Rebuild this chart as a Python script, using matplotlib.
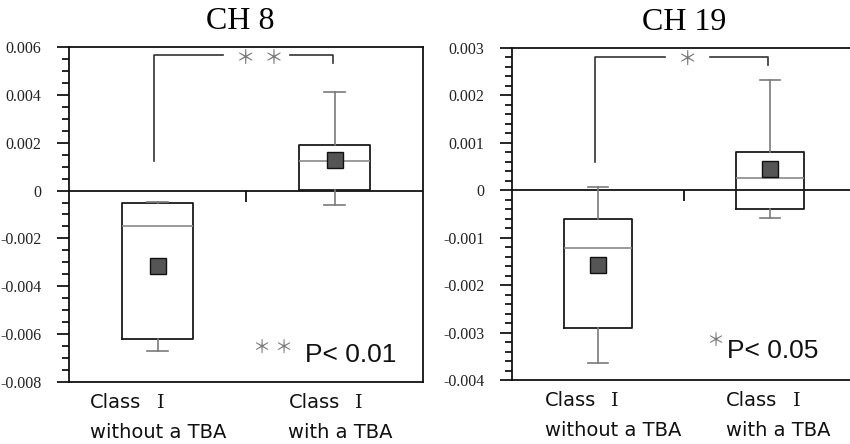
import matplotlib
matplotlib.use("Agg")
import matplotlib.pyplot as plt
from matplotlib.ticker import MultipleLocator, FuncFormatter

plt.rcParams['axes.unicode_minus'] = False

# ---- data ----
titles = ["CH 8", "CH 19"]
cat_line1 = ["Class", "Class"]
cat_numeral = ["\u2160", "\u2160"]
cat_line2 = ["without a TBA", "with a TBA"]

# CH 8 box statistics (without TBA, with TBA)
ch8_q1 = [-0.0062, 0.00004]
ch8_q3 = [-0.0005, 0.0019]
ch8_med = [-0.0015, 0.00124]
ch8_mean = [-0.00316, 0.00126]
ch8_whislo = [-0.00672, -0.00062]
ch8_whishi = [-0.00046, 0.0041]

# CH 19 box statistics
ch19_q1 = [-0.0029, -0.0004]
ch19_q3 = [-0.00061, 0.0008]
ch19_med = [-0.00121, 0.00025]
ch19_mean = [-0.00158, 0.00044]
ch19_whislo = [-0.00364, -0.00059]
ch19_whishi = [0.00006, 0.00232]

# significance brackets: (left foot, top, right foot)
ch8_bracket = [0.00125, 0.00565, 0.00533]
ch19_bracket = [0.0006, 0.00281, 0.00265]
sig_marks = ["\uff0a  \uff0a", "\uff0a"]
legend_marks = ["\uff0a \uff0a", "\uff0a"]
p_texts = ["P< 0.01", "P< 0.05"]

ylims = [(-0.008, 0.006), (-0.004, 0.003)]
major_steps = [0.002, 0.001]
minor_steps = [0.0005, 0.0002]

W, H = 850, 444
fig = plt.figure(figsize=(W / 100, H / 100), dpi=100)
axes_px = [(69, 47, 423, 382), (512, 48, 856, 380)]

serif = ['Liberation Serif', 'DejaVu Serif']
sans = ['DejaVu Sans']
cjk = ['Noto Sans CJK JP', 'DejaVu Sans']
numeral_font = ['DejaVu Serif', 'Noto Sans CJK JP']

datasets = [
    (ch8_q1, ch8_q3, ch8_med, ch8_mean, ch8_whislo, ch8_whishi, ch8_bracket),
    (ch19_q1, ch19_q3, ch19_med, ch19_mean, ch19_whislo, ch19_whishi, ch19_bracket),
]
positions = [0.5, 1.5]
gaps = [(0.87, 1.25), (0.89, 1.15)]
mark_x = [1.08, 1.02]
label_x = [(0.12, 1.24), (0.19, 1.245)]
title_x = [0.483, 0.5]
cap_widths = [0.12, 0.12]

for i, (q1, q3, med, mean, wlo, whi, br) in enumerate(datasets):
    l, t, r, b = axes_px[i]
    ax = fig.add_axes([l / W, 1 - b / H, (r - l) / W, (b - t) / H])
    stats = []
    for k in range(2):
        stats.append(dict(q1=q1[k], q3=q3[k], med=med[k], mean=mean[k],
                          whislo=wlo[k], whishi=whi[k], fliers=[]))
    ax.bxp(stats, positions=positions, widths=0.4, showmeans=True,
           capwidths=cap_widths[i],
           boxprops=dict(color='#1a1a1a', linewidth=1.3),
           medianprops=dict(color='#8a8a8a', linewidth=1.2),
           whiskerprops=dict(color='#7a7a7a', linewidth=1.2),
           capprops=dict(color='#7a7a7a', linewidth=1.2),
           meanprops=dict(marker='s', markersize=12, markerfacecolor='#555555',
                          markeredgecolor='#111111', markeredgewidth=1.0),
           manage_ticks=False)
    ax.set_xlim(0, 2)
    ax.set_ylim(*ylims[i])
    ax.axhline(0, color='#111111', linewidth=1.3, zorder=1)
    # zero-line tick at category boundary
    frac = (0 - ylims[i][0]) / (ylims[i][1] - ylims[i][0])
    sec = ax.secondary_xaxis(frac)
    sec.set_xticks([1])
    sec.xaxis.set_ticks_position('bottom')
    sec.tick_params(axis='x', length=8, width=1.3, color='#111111', labelbottom=False,
                    labeltop=False, direction='out')
    for s in sec.spines.values():
        s.set_visible(False)

    ax.set_xticks([])
    ax.yaxis.set_major_locator(MultipleLocator(major_steps[i]))
    ax.yaxis.set_minor_locator(MultipleLocator(minor_steps[i]))
    ax.yaxis.set_major_formatter(FuncFormatter(lambda v, p: '0' if abs(v) < 1e-12 else f'{v:g}'))
    ax.tick_params(axis='y', which='major', length=9, width=1.2, pad=11,
                   labelsize=11.5, labelcolor='#222222', direction='out')
    ax.tick_params(axis='y', which='minor', length=5, width=1.2, direction='out')
    for lab in ax.get_yticklabels():
        lab.set_fontfamily(serif)
    for s in ax.spines.values():
        s.set_linewidth(1.3)
        s.set_color('#111111')

    ax.set_title(titles[i], fontfamily=serif, fontsize=23, pad=13, x=title_x[i])

    # bracket
    x0, x1 = positions
    ax.plot([x0 - 0.02, x0 - 0.02, gaps[i][0]], [br[0], br[1], br[1]],
            color='#333333', linewidth=1.2)
    ax.plot([gaps[i][1], x1 - 0.01, x1 - 0.01], [br[1], br[1], br[2]],
            color='#333333', linewidth=1.2)
    ax.annotate(sig_marks[i], xy=(mark_x[i], br[1]), xytext=(0, -2),
                textcoords='offset points', ha='center', va='center',
                fontsize=14, color='#777777', fontfamily=cjk)

    # category labels
    for k in range(2):
        xy = (label_x[i][k], 0)
        ax.annotate(cat_line1[k], xy=xy, xycoords=('data', 'axes fraction'),
                    xytext=(0, -18.5), textcoords='offset points',
                    ha='left', va='baseline', fontsize=14, fontfamily=sans,
                    color='#111111', annotation_clip=False)
        ax.annotate(cat_numeral[k], xy=xy, xycoords=('data', 'axes fraction'),
                    xytext=(48, -18.5), textcoords='offset points',
                    ha='left', va='baseline', fontsize=14, fontfamily=numeral_font,
                    color='#111111', annotation_clip=False)
        ax.annotate(cat_line2[k], xy=xy, xycoords=('data', 'axes fraction'),
                    xytext=(0, -40), textcoords='offset points',
                    ha='left', va='baseline', fontsize=14, fontfamily=sans,
                    color='#111111', annotation_clip=False)

# p-value annotations
fig.text(273 / W, 1 - 348 / H, legend_marks[0], ha='center', va='center', fontsize=13,
         color='#777777', fontfamily=cjk)
fig.text(305 / W, 1 - 362 / H, p_texts[0], ha='left', va='baseline', fontsize=19,
         fontfamily=['Liberation Sans'], color='#111111')
fig.text(715 / W, 1 - 341 / H, legend_marks[1], ha='center', va='center', fontsize=13,
         color='#777777', fontfamily=cjk)
fig.text(727 / W, 1 - 358 / H, p_texts[1], ha='left', va='baseline', fontsize=19,
         fontfamily=['Liberation Sans'], color='#111111')

fig.savefig("out.png", dpi=100)
